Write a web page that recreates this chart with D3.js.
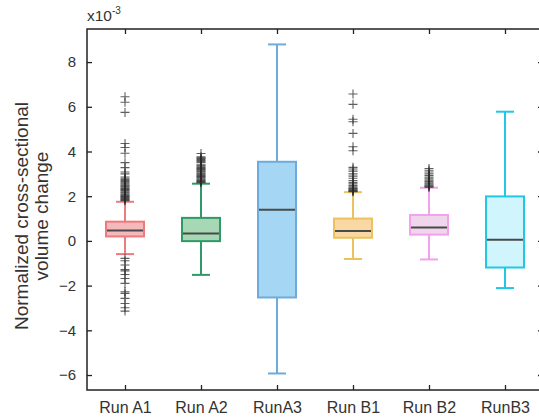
<!DOCTYPE html>
<html><head><meta charset="utf-8">
<script src="https://cdn.jsdelivr.net/npm/d3@7"></script>
<style>body{margin:0;background:#fff;}svg{display:block;font-family:"Liberation Sans",Arial,sans-serif;}</style>
</head><body>
<svg id="c" width="539" height="418"></svg>
<script>
const categories = ["Run A1","Run A2","RunA3","Run B1","Run B2","RunB3"];
const q1 = [0.2, -0.01, -2.53, 0.14, 0.28, -1.19];
const medians = [0.46, 0.33, 1.39, 0.44, 0.6, 0.05];
const q3 = [0.86, 1.03, 3.54, 1.0, 1.16, 1.99];
const whiskerLow = [-0.59, -1.52, -5.93, -0.81, -0.83, -2.11];
const whiskerHigh = [1.75, 2.56, 8.79, 2.18, 2.38, 5.78];
const outliersA1 = [1.8,1.83,1.86,1.9,1.93,1.96,1.99,2.02,2.06,2.1,2.14,2.18,2.22,2.26,2.3,2.34,2.38,2.42,2.46,2.5,2.55,2.6,2.65,2.7,2.75,2.8,2.86,3.0,3.08,3.28,3.5,3.92,4.18,4.36,5.75,6.2,6.45,
  -0.78,-0.89,-1.08,-1.28,-1.34,-1.5,-1.68,-1.9,-2.28,-2.35,-2.57,-2.8,-2.99,-3.14];
const outliersA2 = [2.6,2.63,2.66,2.69,2.72,2.76,2.8,2.84,2.88,2.92,2.96,3.0,3.04,3.08,3.12,3.16,3.2,3.24,3.28,3.32,3.36,3.4,3.5,3.56,3.6,3.64,3.68,3.72,3.76,3.91];
const outliersA3 = [];
const outliersB1 = [2.2,2.22,2.25,2.28,2.31,2.34,2.38,2.42,2.48,2.55,2.62,2.7,2.8,2.9,3.0,3.12,3.22,3.29,4.03,4.21,4.81,5.33,5.44,6.11,6.57];
const outliersB2 = [2.4,2.42,2.46,2.5,2.55,2.6,2.66,2.72,2.78,2.85,2.92,3.0,3.08,3.16,3.24];
const outliersB3 = [];
const outliers = [outliersA1, outliersA2, outliersA3, outliersB1, outliersB2, outliersB3];
const yTicks = [-6,-4,-2,0,2,4,6,8];
const yDomain = [-6.67, 9.48];
const strokeColors = ["#ee7a7e","#2f9a68","#6eaadc","#ebc25e","#f2a2ec","#20c8e6"];
const fillColors = ["#f6b9bb","#a7d8b5","#a5d7f4","#f9d8a3","#f0d6ed","#d0f5fc"];

const svg = d3.select("#c");
const L = 87, R = 543, T = 29, B = 390;
const x = d3.scalePoint().domain(categories).range([L, R]).padding(0.5);
const y = d3.scaleLinear().domain(yDomain).range([B, T]);
const boxW = 38, capW = 18;

svg.append("rect").attr("x", L).attr("y", T).attr("width", R - L).attr("height", B - T)
  .attr("fill", "none").attr("stroke", "#222").attr("stroke-width", 1.5);

const ax = (g) => { g.select(".domain").remove(); g.selectAll("line").attr("stroke", "#222").attr("stroke-width", 1.3); };
svg.append("g").attr("transform", `translate(${L},0)`)
  .call(d3.axisLeft(y).tickValues(yTicks).tickSize(-5).tickPadding(11).tickFormat(d3.format("d")))
  .call(ax).selectAll("text").attr("font-size", 15).attr("fill", "#333").attr("font-family", "Liberation Sans, Arial, sans-serif");
svg.append("g").attr("transform", `translate(${R},0)`)
  .call(d3.axisRight(y).tickValues(yTicks).tickSize(-5).tickFormat(""))
  .call(ax);
svg.append("g").attr("transform", `translate(0,${B})`)
  .call(d3.axisBottom(x).tickSize(-5).tickPadding(12))
  .call(ax).selectAll("text").attr("font-size", 16).attr("fill", "#333").attr("font-family", "Liberation Sans, Arial, sans-serif");
svg.append("g").attr("transform", `translate(0,${T})`)
  .call(d3.axisTop(x).tickSize(-5).tickFormat(""))
  .call(ax);

categories.forEach((c, i) => {
  const g = svg.append("g");
  const cx = x(c);
  const sc = strokeColors[i];
  g.append("line").attr("x1", cx).attr("x2", cx).attr("y1", y(q3[i])).attr("y2", y(whiskerHigh[i])).attr("stroke", sc).attr("stroke-width", 2);
  g.append("line").attr("x1", cx).attr("x2", cx).attr("y1", y(q1[i])).attr("y2", y(whiskerLow[i])).attr("stroke", sc).attr("stroke-width", 2);
  g.append("line").attr("x1", cx - capW/2).attr("x2", cx + capW/2).attr("y1", y(whiskerHigh[i])).attr("y2", y(whiskerHigh[i])).attr("stroke", sc).attr("stroke-width", 2);
  g.append("line").attr("x1", cx - capW/2).attr("x2", cx + capW/2).attr("y1", y(whiskerLow[i])).attr("y2", y(whiskerLow[i])).attr("stroke", sc).attr("stroke-width", 2);
  g.append("rect").attr("x", cx - boxW/2).attr("width", boxW).attr("y", y(q3[i])).attr("height", y(q1[i]) - y(q3[i]))
    .attr("fill", fillColors[i]).attr("stroke", sc).attr("stroke-width", 2);
  g.append("line").attr("x1", cx - boxW/2 + 1).attr("x2", cx + boxW/2 - 1).attr("y1", y(medians[i])).attr("y2", y(medians[i]))
    .attr("stroke", "#4a4a4a").attr("stroke-width", 2);
  g.selectAll("path.o").data(outliers[i]).join("path").attr("class", "o")
    .attr("d", d => `M${cx-4.5},${y(d)}H${cx+4.5}M${cx},${y(d)-4.5}V${y(d)+4.5}`)
    .attr("stroke", "#2a2a2a").attr("stroke-opacity", 0.75).attr("stroke-width", 1.1).attr("fill", "none");
});

const m = svg.append("text").attr("x", 87).attr("y", 21).attr("font-size", 15.5).attr("fill", "#333");
m.append("tspan").text("x10");
m.append("tspan").attr("font-size", 10).attr("dy", -7).text("-3");

const yl = svg.append("text").attr("transform", "translate(28,216) rotate(-90)").attr("text-anchor", "middle")
  .attr("font-size", 19).attr("fill", "#333");
yl.append("tspan").attr("x", 0).attr("dy", 0).text("Normalized cross-sectional");
yl.append("tspan").attr("x", 0).attr("dy", 20).text("volume change");
</script>
</body></html>
